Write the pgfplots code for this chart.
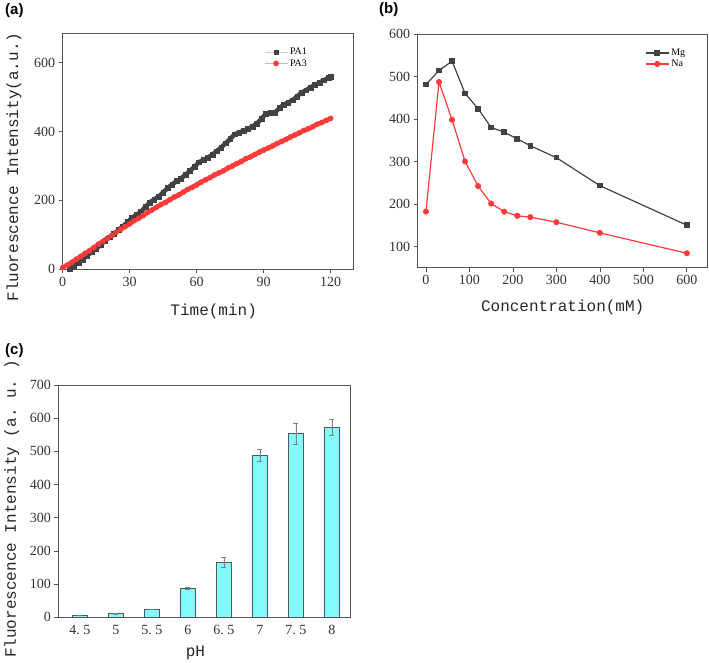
\documentclass[border=0pt]{standalone}
\usepackage{pgfplots}
\usepackage{pgfplotstable}
\pgfplotsset{compat=1.18}
\usepackage{fontspec}
\setmainfont{Liberation Serif}
\newfontfamily\labelfont{Liberation Mono}
\newfontfamily\panelfont{Liberation Sans}

\definecolor{darkser}{RGB}{66,66,66}
\definecolor{redser}{RGB}{255,58,58}
\definecolor{barcyan}{RGB}{130,252,252}
\definecolor{axisgray}{RGB}{85,85,85}

% PA1 kinetics (min, a.u.)
\pgfplotstableread{
t v
3 0
5 9
7 19
9 29
11 40
13 50
15 60
17 71
19 83
21 93
23 103
25 114
27 125
29 137
31 149
33 158
35 167
37 181
39 194
41 203
43 211
45 223
47 236
49 246
51 256
53 264
55 274
57 286
59 297
61 311
63 317
65 324
67 333
69 343
71 354
73 366
75 378
77 392
79 397
81 402
83 407
85 415
87 423
89 437
91 452
93 455
95 454
97 468
99 478
101 484
103 491
105 502
107 513
109 520
111 528
113 535
115 542
117 549
119 555
120 559
}\paone

% PA3 kinetics
\pgfplotstableread{
t v
0 5
2 12
4 20
6 29
8 37
10 46
12 54
14 63
16 73
18 81
20 90
22 98
24 108
26 116
28 124
30 132
32 141
34 148
36 156
38 165
40 172
42 180
44 188
46 194
48 202
50 210
52 216
54 224
56 232
58 238
60 245
62 253
64 260
66 266
68 274
70 280
72 286
74 294
76 300
78 307
80 313
82 321
84 326
86 333
88 340
90 346
92 352
94 358
96 365
98 371
100 377
102 384
104 390
106 396
108 403
110 408
112 414
114 421
116 426
118 432
120 438
}\pathree

\pgfplotsset{
  panel/.style={
    scale only axis, anchor=south west,
    axis line style={axisgray, line width=0.8pt},
    tick align=outside, xtick pos=left, ytick pos=left,
    major tick length=4pt,
    every tick/.style={axisgray, line width=0.7pt},
    tick label style={font=\fontsize{14}{14}\selectfont, text=black!80},
    /pgf/number format/assume math mode=true,
    label style={font=\labelfont\fontsize{16}{16}\selectfont, text=black!85},
    legend style={draw=none, fill=none, font=\fontsize{10}{12}\selectfont,
      anchor=north west, row sep=-1pt, inner sep=1pt},
    legend cell align=left,
    legend image code/.code={\draw[mark repeat=2,mark phase=2,##1] plot coordinates {(0pt,0pt) (11.5pt,0pt) (23pt,0pt)};},
  }
}

\begin{document}
\begin{tikzpicture}
\useasboundingbox (0pt,0pt) rectangle (709pt,662pt);

% (a) kinetics
\begin{axis}[panel, at={(62.7pt,392.7pt)}, width=290.3pt, height=236pt,
  xmin=0, xmax=130, ymin=0, ymax=685,
  xtick={0,30,60,90,120}, ytick={0,200,400,600},
  xlabel={Time(min)}, ylabel={Fluorescence Intensity(a.u.)},
  xlabel style={at={(axis description cs:0.52,-0.178)}, anchor=center},
  ylabel style={at={(axis description cs:-0.168,0.433)}, anchor=center, rotate=0},
  legend style={at={(axis description cs:0.69,0.95)}},
]
% dense measurement points drawn as a thick band under the marks
\addplot[darkser, line width=4.5pt, forget plot] table {\paone};
\addplot[redser, line width=4.5pt, forget plot] table {\pathree};
\addplot[only marks, mark=square*, mark size=2.4pt, darkser, forget plot] table {\paone};
\addplot[only marks, mark=*, mark size=2.6pt, redser, forget plot] table {\pathree};
\addlegendimage{gray!40, line width=0.8pt, mark=square*, mark size=2.2pt, mark options={draw=darkser, fill=darkser}}
\addlegendentry{PA1}
\addlegendimage{red!35, line width=0.8pt, mark=*, mark size=2.4pt, mark options={draw=redser, fill=redser}}
\addlegendentry{PA3}
\end{axis}

% (b) concentration
\begin{axis}[panel, at={(417.7pt,394.3pt)}, width=290pt, height=233.7pt,
  xmin=-19, xmax=648, ymin=50, ymax=600,
  xtick={0,100,...,600}, ytick={100,200,...,600},
  xlabel={Concentration(mM)},
  xlabel style={at={(axis description cs:0.5,-0.168)}, anchor=center},
  legend style={at={(axis description cs:0.78,0.95)}},
]
\addplot[darkser, line width=1.2pt, mark=square*, mark size=2.2pt] coordinates {
(0,481) (30,514) (60,536) (90,460) (120,424) (150,380) (180,369)
(210,353) (240,337) (300,309) (400,243) (600,150)};
\addlegendentry{Mg}
\addplot[redser, line width=1.2pt, mark=*, mark size=2.4pt] coordinates {
(0,182) (30,487) (60,398) (90,300) (120,242) (150,201) (180,182)
(210,172) (240,169) (300,157) (400,132) (600,84)};
\addlegendentry{Na}
\end{axis}

% (c) pH
\begin{axis}[panel, at={(58.3pt,44.7pt)}, width=291.7pt, height=232.3pt,
  xmin=-0.6, xmax=7.5, ymin=0, ymax=700,
  xtick={0,...,7}, xticklabels={4.\ 5,5,5.\ 5,6,6.\ 5,7,7.\ 5,8},
  ytick={0,100,...,700},
  major x tick style={draw=none},
  xlabel={pH}, ylabel={Fluorescence Intensity (a.\ u.\ )},
  xlabel style={at={(axis description cs:0.47,-0.154)}, anchor=center},
  ylabel style={at={(axis description cs:-0.16,0.466)}, anchor=center, rotate=0},
]
\addplot[ybar, bar width=15pt, fill=barcyan, draw=axisgray, line width=0.8pt,
  error bars/.cd, y dir=both, y explicit,
  error bar style={gray, line width=0.7pt},
  error mark options={rotate=90, gray, mark size=2.5pt, line width=0.7pt}]
  coordinates {
(0,6) +- (0,1)
(1,11) +- (0,1)
(2,24) +- (0,1)
(3,87) +- (0,4)
(4,166) +- (0,15)
(5,488) +- (0,18)
(6,553) +- (0,32)
(7,573) +- (0,24)
};
\end{axis}

\node[anchor=north west, inner sep=0pt, font=\panelfont\bfseries\fontsize{15}{15}\selectfont] at (5pt,659pt) {(a)};
\node[anchor=north west, inner sep=0pt, font=\panelfont\bfseries\fontsize{15}{15}\selectfont] at (379pt,660pt) {(b)};
\node[anchor=north west, inner sep=0pt, font=\panelfont\bfseries\fontsize{15}{15}\selectfont] at (5pt,319pt) {(c)};
\end{tikzpicture}
\end{document}
